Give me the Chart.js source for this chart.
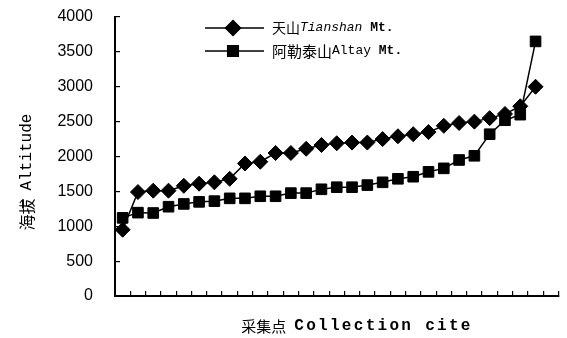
<!DOCTYPE html>
<html>
<head>
<meta charset="utf-8">
<script src="https://cdn.jsdelivr.net/npm/chart.js@4/dist/chart.umd.min.js"></script>
<style>
  html, body { margin: 0; padding: 0; background: #fff; }
  canvas { display: block; }
</style>
</head>
<body>
<canvas id="altChart" width="567" height="338"></canvas>
<script>
// ================================
// DATA
// ================================
const sites = ['', '', '', '', '', '', '', '', '', '', '', '', '', '', '', '', '', '', '', '', '', '', '', '', '', '', '', '', ''];
const tianshan = [950, 1490, 1510, 1510, 1580, 1610, 1630, 1680, 1900, 1925, 2050, 2050, 2110, 2165, 2190, 2200, 2200, 2250, 2290, 2320, 2350, 2440, 2480, 2500, 2550, 2610, 2720, 3000];
const altay = [1120, 1195, 1190, 1280, 1320, 1350, 1360, 1400, 1400, 1430, 1430, 1475, 1475, 1530, 1560, 1560, 1590, 1630, 1680, 1710, 1780, 1830, 1950, 2010, 2320, 2520, 2600, 3650];
const yMin = 0;
const yMax = 4000;
const yStep = 500;

const CJK = '"Noto Sans CJK SC"';
const MONO = '"Liberation Mono", "DejaVu Sans Mono", monospace';

// draw a row of text pieces with different fonts, left to right
function drawRuns(ctx, runs, x, y, align) {
    let total = 0;
    runs.forEach(r => {
        ctx.font = r.font;
        ctx.letterSpacing = r.spacing || '0px';
        r.w = ctx.measureText(r.text).width + (r.gap || 0);
        total += r.w;
    });
    let cx = align === 'center' ? x - total / 2 : x;
    runs.forEach(r => {
        ctx.font = r.font;
        ctx.letterSpacing = r.spacing || '0px';
        ctx.fillText(r.text, cx, y);
        cx += r.w;
    });
    ctx.letterSpacing = '0px';
}

// axis titles + legend box drawn over the chart
const overlayText = {
    id: 'overlayText',
    afterDraw(chart) {
        const ctx = chart.ctx;
        ctx.save();
        ctx.fillStyle = '#000';
        ctx.textBaseline = 'middle';
        ctx.textAlign = 'left';

        // y title (rotated)
        ctx.save();
        ctx.translate(27, 172);
        ctx.rotate(-Math.PI / 2);
        drawRuns(ctx, [
            { text: '海拔', font: '16px ' + CJK, gap: 8 },
            { text: 'Altitude', font: '16px ' + MONO }
        ], 0, 0, 'center');
        ctx.restore();

        // x title
        drawRuns(ctx, [
            { text: '采集点', font: '15px ' + CJK, gap: 8 },
            { text: 'Collection cite', font: 'bold 16px ' + MONO, spacing: '2.3px' }
        ], 357, 326, 'center');

        // legend
        const rows = [
            { y: 28, runs: [
                { text: '天山', font: '14px ' + CJK },
                { text: 'Tianshan', font: 'italic 13px ' + MONO },
                { text: ' Mt.', font: 'bold 13px ' + MONO }
            ] },
            { y: 51, runs: [
                { text: '阿勒泰山', font: '15px ' + CJK },
                { text: 'Altay', font: '13px ' + MONO },
                { text: ' Mt.', font: 'bold 13px ' + MONO }
            ] }
        ];
        chart.data.datasets.forEach((ds, i) => {
            const y = rows[i].y;
            ctx.strokeStyle = '#000';
            ctx.lineWidth = 1.5;
            ctx.beginPath();
            ctx.moveTo(205, y);
            ctx.lineTo(264, y);
            ctx.stroke();
            ctx.fillStyle = '#000';
            Chart.helpers.drawPoint(ctx, {
                pointStyle: ds.pointStyle,
                radius: ds.pointRadius,
                rotation: 0,
                borderWidth: 1
            }, 233, y);
            ctx.fill();
            drawRuns(ctx, rows[i].runs, 272, y, 'left');
        });
        ctx.restore();
    }
};

new Chart(document.getElementById('altChart'), {
    type: 'line',
    data: {
        labels: sites,
        datasets: [
            {
                label: '天山Tianshan Mt.',
                data: tianshan,
                borderColor: '#000',
                backgroundColor: '#000',
                borderWidth: 1.5,
                pointStyle: 'rectRot',
                pointRadius: 7.5,
                pointBorderWidth: 1,
                tension: 0
            },
            {
                label: '阿勒泰山Altay Mt.',
                data: altay,
                borderColor: '#000',
                backgroundColor: '#000',
                borderWidth: 1.5,
                pointStyle: 'rect',
                pointRadius: 7.5,
                pointBorderWidth: 1,
                tension: 0
            }
        ]
    },
    options: {
        responsive: false,
        animation: false,
        layout: { padding: { left: 10, top: 17, right: 4, bottom: 0 } },
        plugins: {
            legend: { display: false },
            tooltip: { enabled: false }
        },
        scales: {
            x: {
                offset: true,
                grid: { drawOnChartArea: false, offset: true, tickLength: -5, color: '#000', lineWidth: 1.2 },
                border: { color: '#000', width: 2 },
                ticks: { display: false, autoSkip: false },
                afterFit(scale) { scale.height = 42; }
            },
            y: {
                min: yMin,
                max: yMax,
                ticks: {
                    stepSize: yStep,
                    color: '#000',
                    padding: 27,
                    font: { family: '"Liberation Sans", Arial, sans-serif', size: 16 },
                    callback: v => String(v)
                },
                grid: { drawOnChartArea: false, tickLength: -5, color: '#000', lineWidth: 1.2 },
                border: { color: '#000', width: 2 },
                afterFit(scale) {
                    scale.width = 105;
                    // tick padding is otherwise added above the top label
                    scale.paddingTop = 0;
                    scale.paddingBottom = 0;
                }
            }
        }
    },
    plugins: [overlayText]
});
</script>
</body>
</html>
